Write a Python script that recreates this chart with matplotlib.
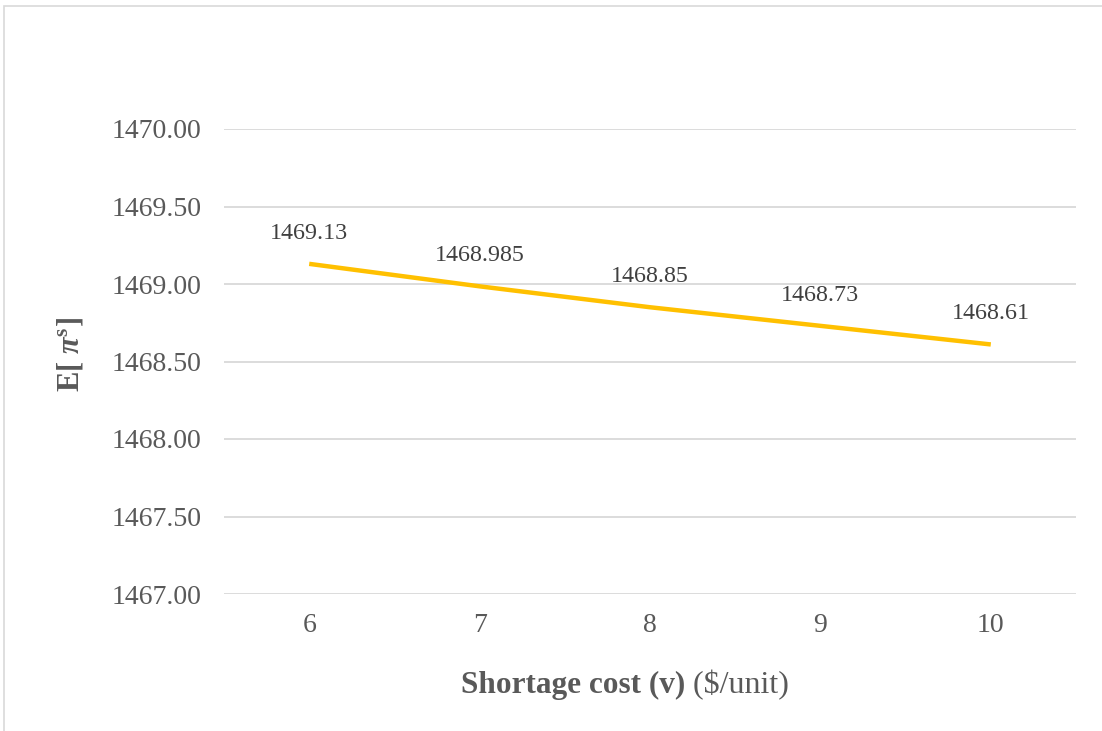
import matplotlib.pyplot as plt
from matplotlib.patches import Rectangle

# shortage cost v ($/unit) vs expected profit
shortage_cost = ["6", "7", "8", "9", "10"]
expected_profit = [1469.13, 1468.985, 1468.85, 1468.73, 1468.61]
value_labels = ["1469.13", "1468.985", "1468.85", "1468.73", "1468.61"]
y_ticks = [1467.0, 1467.5, 1468.0, 1468.5, 1469.0, 1469.5, 1470.0]

plt.rcParams["font.family"] = ["Liberation Serif", "DejaVu Serif"]
plt.rcParams["mathtext.fontset"] = "custom"
plt.rcParams["mathtext.rm"] = "Liberation Serif:bold"
plt.rcParams["mathtext.it"] = "Liberation Serif:italic:bold"
plt.rcParams["mathtext.bf"] = "Liberation Serif:bold"

TEXT = "#595959"
GRID = "#d9d9d9"
LINE = "#ffc000"

fig = plt.figure(figsize=(11.02, 7.31), dpi=100)
ax = fig.add_axes([224 / 1102, 1 - 594 / 731, 852 / 1102, 465 / 731])

# chart border (only top and left edges fall inside the image)
fig.patches.append(Rectangle((4 / 1102, -0.1), 1.2, (731 - 6) / 731 + 0.1,
                             transform=fig.transFigure, fill=False,
                             edgecolor="#d9d9d9", lw=1.2))

x = list(range(len(shortage_cost)))
ax.plot(x, expected_profit, color=LINE, lw=3.2, solid_capstyle="butt", zorder=3)

for xi, yi, lab in zip(x, expected_profit, value_labels):
    ax.annotate(lab, (xi, yi), xytext=(0, 22), textcoords="offset points",
                ha="center", va="center", fontsize=17.3, color="#404040")

ax.set_xlim(-0.5, len(shortage_cost) - 0.5)
ax.set_ylim(1467.0, 1470.0)
ax.set_yticks(y_ticks)
ax.set_yticklabels([f"{v:.2f}" for v in y_ticks])
ax.set_xticks(x)
ax.set_xticklabels(shortage_cost)
ax.tick_params(axis="both", length=0, labelsize=20, labelcolor=TEXT)
ax.tick_params(axis="y", pad=16)
ax.tick_params(axis="x", pad=14)
ax.grid(axis="y", color=GRID, lw=1.3)
ax.set_axisbelow(True)
for s in ax.spines.values():
    s.set_visible(False)

ax.set_ylabel(r"E[ $\pi^{\mathrm{s}}$]", fontsize=22, fontweight="bold", color=TEXT)
ax.yaxis.set_label_coords(-0.162, 0.514)

# x title: bold name followed by regular unit
split = (685 - 224) / 852
ax.text(split, -0.196, "Shortage cost (v)", transform=ax.transAxes,
        ha="right", va="center", fontsize=22.5, fontweight="bold", color=TEXT)
ax.text(split, -0.196, " ($/unit)", transform=ax.transAxes,
        ha="left", va="center", fontsize=23, color=TEXT)

fig.savefig("out.png", dpi=100, facecolor="white")
